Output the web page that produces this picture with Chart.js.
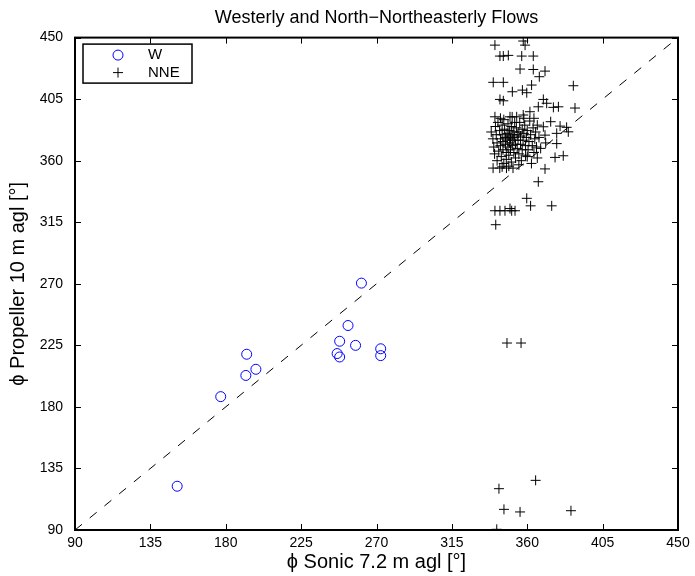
<!DOCTYPE html>
<html>
<head>
<meta charset="utf-8">
<script src="https://cdn.jsdelivr.net/npm/chart.js@4.4.1/dist/chart.umd.min.js"></script>
<style>
  body { margin: 0; background: #fff; }
</style>
</head>
<body>
<canvas id="chart" width="695" height="576"></canvas>
<script>
const FONT = "'Liberation Sans', Arial, Helvetica, sans-serif";

// Datos: [sonic 7.2 m, propeller 10 m] en grados
const seriesNames = ["W", "NNE"];

const wPoints = [
  [151, 122], [177, 187.5], [192, 203], [198, 207.5], [192.5, 218.5],
  [246.5, 219], [248, 216.5], [248, 228], [257.5, 225], [253, 239.5],
  [261, 270.5], [272.5, 222.5], [272.5, 217.5]
];

const nnePoints = [
  // parte alta
  [340.7, 444.5], [357.6, 447.5], [358.7, 444.5],
  [343.7, 436.5], [345.7, 436.5], [348.7, 437], [356.7, 436.5], [363.6, 436.5],
  [355.7, 427], [363.6, 426.7], [370.6, 425.5], [367.2, 421.4],
  [339.7, 417.3], [345.7, 417.3], [387.5, 414.8], [362.6, 415.3],
  [351.1, 410.4], [357.1, 411.6], [359.7, 409.7],
  [343.7, 404.8], [345.7, 403.8], [369.6, 404.8], [371.6, 402],
  [366.6, 399.4], [375.6, 399], [378.6, 399.4], [388.5, 398.5],
  [340.7, 392.1], [361.6, 395.8], [349.7, 392.1], [353.7, 392.1], [357.6, 393.4],
  [374, 388.5], [369.6, 384.8], [379.6, 385.3], [383.5, 384.4], [384.5, 381.1],
  [370.6, 378.7], [377.6, 380], [377.6, 372.5], [371, 373],
  [376.6, 362.4], [381.5, 363.6], [370.6, 354], [366.6, 344.6],
  [339.6, 354.6], [343.6, 354.6], [347.6, 354.6], [351.5, 354.6],
  // nucleo denso
  [338.5, 381], [339.5, 376], [340, 370], [340.5, 365], [341, 385], [341.5, 379], [342, 373], [342, 360], [342.5, 388], [343, 367],
  [343.5, 382], [344, 376], [344, 371], [344.5, 363], [345, 386], [345, 379], [345.5, 374], [345.5, 368], [346, 358], [346, 390],
  [346.5, 383], [347, 377], [347, 372], [347.5, 366], [347.5, 361], [348, 380], [348, 375], [348.5, 387], [348.5, 370], [349, 364],
  [349, 378], [349.5, 382], [349.5, 373], [350, 368], [350, 376], [350.5, 385], [350.5, 359], [351, 379], [351, 371], [351.5, 375],
  [352, 366], [352, 381], [352.5, 388], [352.5, 377], [353, 372], [353, 362], [353.5, 384], [354, 379], [354, 369], [354.5, 375],
  [355, 381], [355, 365], [355.5, 388], [356, 372], [356, 378], [356.5, 360], [357, 383], [357, 368], [357.5, 375], [358, 380],
  [358.5, 386], [359, 371], [359, 364], [359.5, 377], [360, 382], [360.5, 368], [361, 374], [361.5, 389], [362, 379], [362.5, 358],
  [363, 371], [363.5, 384], [364, 366], [364.5, 376], [365, 381], [365.5, 370], [366, 386], [366, 362], [367, 377], [368, 369],
  [349, 356], [345, 355.5], [355, 357], [360, 363], [344, 391], [351, 392], [358, 391], [364, 391],
  // parte baja
  [359.7, 332.5], [362, 327], [374.6, 327],
  [340.7, 323.4], [343.7, 323.4], [346.7, 323.4], [349.7, 325], [350.7, 323.4], [352.7, 323.4],
  [341.2, 313.2], [347.9, 226.7], [356.3, 226.7],
  [343.1, 120.2], [365, 126.3], [346.1, 105.1], [355.7, 103.2], [386.1, 104.1], [341.8, 90.5]
];

// Linea 1:1
const diag = [[90, 90], [450, 450]];

const axisMin = 90;
const axisMax = 450;
const tickStep = 45;

const toXY = arr => arr.map(p => ({ x: p[0], y: p[1] }));

// Marco, ticks hacia dentro y leyenda estilo MATLAB
const framePlugin = {
  id: "frame",
  afterDraw(chart) {
    const ctx = chart.ctx;
    const a = chart.chartArea;
    const xs = chart.scales.x;
    const ys = chart.scales.y;
    ctx.save();
    ctx.strokeStyle = "#000";
    ctx.lineWidth = 1;
    const tl = 6;
    ctx.beginPath();
    xs.ticks.forEach(t => {
      const px = Math.round(xs.getPixelForValue(t.value)) + 0.5;
      ctx.moveTo(px, a.bottom); ctx.lineTo(px, a.bottom - tl);
      ctx.moveTo(px, a.top); ctx.lineTo(px, a.top + tl);
    });
    ys.ticks.forEach(t => {
      const py = Math.round(ys.getPixelForValue(t.value)) + 0.5;
      ctx.moveTo(a.left, py); ctx.lineTo(a.left + tl, py);
      ctx.moveTo(a.right, py); ctx.lineTo(a.right - tl, py);
    });
    ctx.stroke();

    ctx.lineWidth = 2;
    ctx.strokeRect(a.left, a.top, a.right - a.left, a.bottom - a.top);

    // leyenda
    const bx = a.left + 8, by = a.top + 6.5;
    ctx.fillStyle = "#fff";
    ctx.fillRect(bx, by, 109, 39);
    ctx.lineWidth = 1.5;
    ctx.strokeRect(bx, by, 109, 39);

    const ds = chart.data.datasets;
    const mx = a.left + 43;
    const rows = [a.top + 17.5, a.top + 35];
    ctx.font = "15px " + FONT;
    ctx.textBaseline = "middle";
    ctx.textAlign = "left";
    ctx.fillStyle = "#000";
    // W: circulo
    ctx.lineWidth = 1;
    ctx.strokeStyle = ds[0].borderColor;
    ctx.beginPath();
    ctx.arc(mx, rows[0], 5, 0, Math.PI * 2);
    ctx.stroke();
    ctx.fillText(ds[0].label, a.left + 73, rows[0]);
    // NNE: cruz
    ctx.strokeStyle = ds[1].borderColor;
    ctx.beginPath();
    ctx.moveTo(mx - 5, rows[1]); ctx.lineTo(mx + 5, rows[1]);
    ctx.moveTo(mx, rows[1] - 5); ctx.lineTo(mx, rows[1] + 5);
    ctx.stroke();
    ctx.fillText(ds[1].label, a.left + 73, rows[1]);
    ctx.restore();
  }
};

const tickFont = { family: FONT, size: 14 };
const titleFont = { family: FONT, size: 20 };

const config = {
  type: "scatter",
  data: {
    datasets: [
      {
        label: seriesNames[0],
        data: toXY(wPoints),
        pointStyle: "circle",
        pointRadius: 5,
        borderColor: "#0000ff",
        backgroundColor: "rgba(0,0,0,0)",
        borderWidth: 1
      },
      {
        label: seriesNames[1],
        data: toXY(nnePoints),
        pointStyle: "cross",
        pointRadius: 5,
        borderColor: "#000",
        backgroundColor: "#000",
        borderWidth: 1
      },
      {
        label: "1:1",
        data: toXY(diag),
        showLine: true,
        borderColor: "#000",
        borderWidth: 1,
        borderDash: [9, 10],
        pointRadius: 0
      }
    ]
  },
  options: {
    responsive: false,
    animation: false,
    events: [],
    layout: { padding: { left: 0, right: 17, top: 0, bottom: 0 } },
    plugins: {
      legend: { display: false },
      tooltip: { enabled: false },
      title: {
        display: true,
        fullSize: false,
        text: "Westerly and North\u2212Northeasterly Flows",
        color: "#000",
        font: { family: FONT, size: 18, weight: "normal" },
        padding: { top: 7, bottom: 9 }
      }
    },
    scales: {
      x: {
        type: "linear",
        min: axisMin,
        max: axisMax,
        grid: { display: false, drawTicks: false },
        border: { display: false },
        ticks: { stepSize: tickStep, padding: 5, color: "#000", font: tickFont, maxRotation: 0 },
        title: {
          display: true,
          text: "\u03d5 Sonic 7.2 m agl [\u00b0]",
          color: "#000",
          font: titleFont,
          padding: { top: 0, bottom: 2 }
        },
        afterFit(s) { s.height = 46; }
      },
      y: {
        type: "linear",
        min: axisMin,
        max: axisMax,
        grid: { display: false, drawTicks: false },
        border: { display: false },
        ticks: { stepSize: tickStep, padding: 12, color: "#000", font: tickFont },
        title: {
          display: true,
          text: "\u03d5 Propeller 10 m agl [\u00b0]",
          color: "#000",
          font: titleFont,
          padding: { top: 6, bottom: 0 }
        },
        afterFit(s) { s.width = 75; }
      }
    }
  },
  plugins: [framePlugin]
};

const chart = new Chart(document.getElementById("chart").getContext("2d"), config);
</script>
</body>
</html>
